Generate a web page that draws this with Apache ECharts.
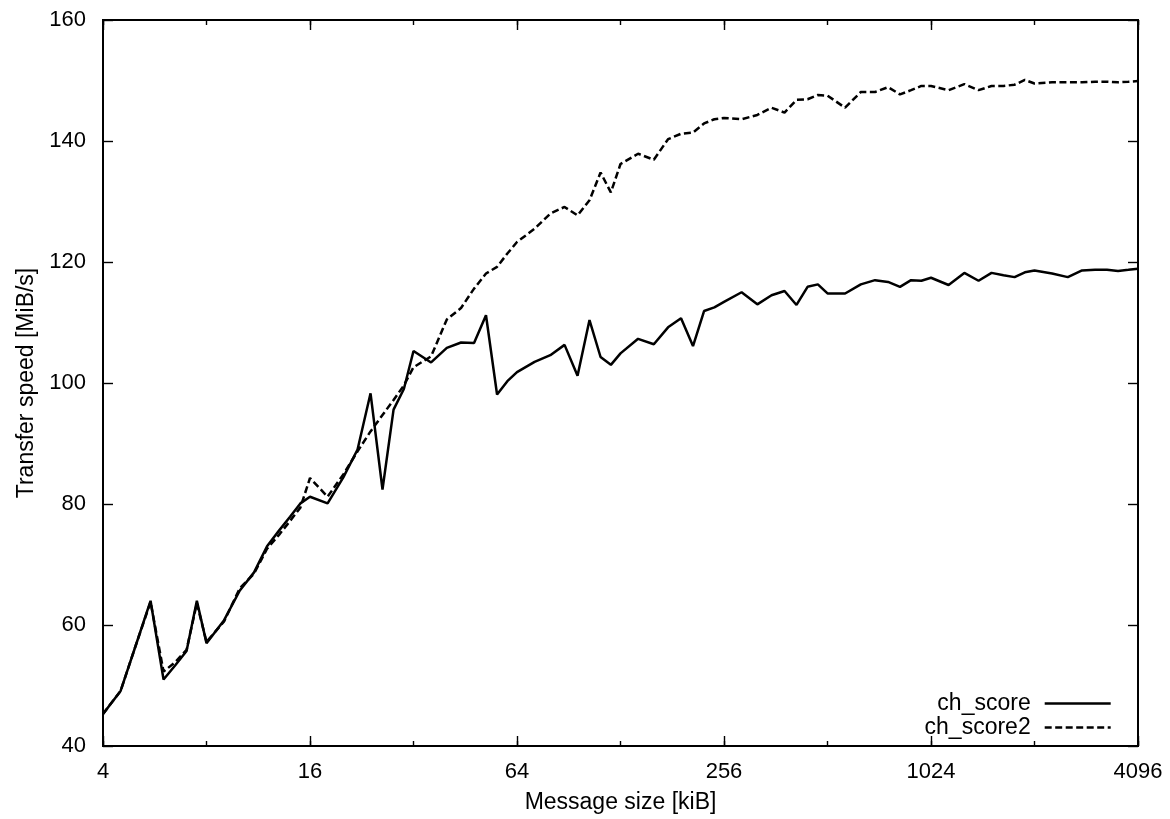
<!DOCTYPE html>
<html>
<head>
<meta charset="utf-8">
<script src="https://cdn.jsdelivr.net/npm/echarts@6/dist/echarts.min.js"></script>
<style>
  html, body { margin: 0; padding: 0; background: #fff; }
  #chart { width: 1170px; height: 819px; }
</style>
</head>
<body>
<div id="chart"></div>
<script>
// Message sizes in kiB: eight steps per octave from 4 to 4096
const sizes = [
  4, 4.5, 5, 5.5, 6, 6.5, 7, 7.5,
  8, 9, 10, 11, 12, 13, 14, 15,
  16, 18, 20, 22, 24, 26, 28, 30,
  32, 36, 40, 44, 48, 52, 56, 60,
  64, 72, 80, 88, 96, 104, 112, 120,
  128, 144, 160, 176, 192, 208, 224, 240,
  256, 288, 320, 352, 384, 416, 448, 480,
  512, 576, 640, 704, 768, 832, 896, 960,
  1024, 1152, 1280, 1408, 1536, 1664, 1792, 1920,
  2048, 2304, 2560, 2816, 3072, 3328, 3584, 3840,
  4096
];

// Transfer speed in MiB/s for ch_score
const chScore = [
  45.3, 49.1, 56.9, 64.0, 51.0, 53.4, 55.7, 64.0,
  57.0, 60.8, 65.7, 68.7, 73.0, 75.6, 77.9, 80.1,
  81.2, 80.1, 84.4, 89.0, 98.3, 82.4, 95.6, 99.0,
  105.3, 103.4, 105.8, 106.7, 106.6, 111.2, 98.1, 100.3,
  101.8, 103.5, 104.6, 106.3, 101.2, 110.4, 104.3, 103.0,
  104.9, 107.3, 106.4, 109.2, 110.7, 106.1, 111.9, 112.5,
  113.4, 115.0, 113.0, 114.5, 115.2, 112.9, 115.9, 116.3,
  114.8, 114.8, 116.3, 117.0, 116.7, 115.9, 117.0, 116.9,
  117.4, 116.2, 118.2, 116.9, 118.2, 117.8, 117.5, 118.3,
  118.6, 118.1, 117.5, 118.6, 118.7, 118.7, 118.5, 118.7,
  118.9
];

// Transfer speed in MiB/s for ch_score2
const chScore2 = [
  45.3, 49.1, 56.9, 63.8, 52.3, 53.9, 55.9, 63.6,
  57.2, 60.6, 66.1, 68.5, 72.6, 74.9, 77.2, 79.4,
  84.3, 81.2, 84.9, 88.7, 92.0, 94.7, 97.2, 99.6,
  102.6, 104.4, 110.5, 112.4, 115.6, 118.1, 119.2, 121.4,
  123.3, 125.5, 128.0, 129.1, 127.7, 130.2, 134.8, 131.5,
  136.2, 137.9, 136.9, 140.3, 141.2, 141.4, 142.9, 143.6,
  143.8, 143.6, 144.3, 145.5, 144.7, 146.8, 146.9, 147.6,
  147.5, 145.5, 148.1, 148.1, 148.9, 147.7, 148.4, 149.1,
  149.1, 148.4, 149.4, 148.4, 149.1, 149.1, 149.3, 150.1,
  149.5, 149.7, 149.7, 149.7, 149.8, 149.8, 149.7, 149.8,
  149.9
];

const seriesNames = ['ch_score', 'ch_score2'];
const xTickLabels = [4, 16, 64, 256, 1024, 4096];
const yTicks = [40, 60, 80, 100, 120, 140, 160];

const FONT = "'Liberation Sans', Arial, Helvetica, sans-serif";
const INK = '#000';
const toPairs = vals => sizes.map((s, i) => [s, vals[i]]);

// Log2 x axis; several copies give long ticks every two octaves, short ticks every octave,
// mirrored on the top edge.
function xAxisDef(position, interval, tickLen, withLabels) {
  const axis = {
    type: 'log',
    logBase: 2,
    position: position,
    min: xTickLabels[0],
    max: xTickLabels[xTickLabels.length - 1],
    interval: interval,
    axisLine: { show: false },
    splitLine: { show: false },
    axisTick: { show: true, inside: true, length: tickLen, lineStyle: { color: INK, width: 1.4 } },
    axisLabel: {
      show: withLabels,
      margin: 15,
      color: INK,
      fontSize: 22,
      fontFamily: FONT,
      formatter: v => (xTickLabels.indexOf(Math.round(v)) >= 0 ? String(Math.round(v)) : '')
    }
  };
  if (withLabels) {
    axis.name = 'Message size [kiB]';
    axis.nameLocation = 'middle';
    axis.nameGap = 45;
    axis.nameTextStyle = { color: INK, fontSize: 23, fontFamily: FONT };
  }
  return axis;
}

function yAxisDef(position, withLabels) {
  const axis = {
    type: 'value',
    position: position,
    min: yTicks[0],
    max: yTicks[yTicks.length - 1],
    interval: yTicks[1] - yTicks[0],
    axisLine: { show: false },
    splitLine: { show: false },
    axisTick: { show: true, inside: true, length: 10, lineStyle: { color: INK, width: 1.4 } },
    axisLabel: { show: withLabels, margin: 17, color: INK, fontSize: 22, fontFamily: FONT }
  };
  if (withLabels) {
    axis.name = 'Transfer speed [MiB/s]';
    axis.nameLocation = 'middle';
    axis.nameGap = 65;
    axis.nameRotate = 90;
    axis.nameTextStyle = { color: INK, fontSize: 23, fontFamily: FONT };
  }
  return axis;
}

const chart = echarts.init(document.getElementById('chart'), null, { renderer: 'canvas' });

chart.setOption({
  backgroundColor: '#fff',
  animation: false,
  grid: {
    left: 103, right: 32, top: 20, bottom: 72,
    show: true, borderColor: INK, borderWidth: 2, backgroundColor: 'transparent'
  },
  legend: {
    data: seriesNames,
    orient: 'vertical',
    align: 'right',
    right: 58,
    top: 692,
    padding: 0,
    itemGap: 1,
    itemWidth: 66,
    itemHeight: 24,
    selectedMode: false,
    itemStyle: { opacity: 0 },
    lineStyle: { width: 2.6 },
    formatter: name => '{t|' + name + '}',
    textStyle: {
      color: INK, fontSize: 23, fontFamily: FONT,
      rich: { t: { color: INK, fontSize: 23, fontFamily: FONT, padding: [0, 9, 0, 0] } }
    }
  },
  xAxis: [
    xAxisDef('bottom', 2, 10, true),
    xAxisDef('bottom', 1, 5, false),
    xAxisDef('top', 2, 10, false),
    xAxisDef('top', 1, 5, false)
  ],
  yAxis: [
    yAxisDef('left', true),
    yAxisDef('right', false)
  ],
  series: [
    {
      name: seriesNames[0],
      type: 'line',
      xAxisIndex: 0,
      yAxisIndex: 0,
      data: toPairs(chScore),
      symbol: 'none',
      lineStyle: { color: INK, width: 2.5, type: 'solid' },
      itemStyle: { color: INK },
      z: 3
    },
    {
      name: seriesNames[1],
      type: 'line',
      xAxisIndex: 0,
      yAxisIndex: 0,
      data: toPairs(chScore2),
      symbol: 'none',
      lineStyle: { color: INK, width: 2.5, type: [7, 3.5], cap: 'butt' },
      itemStyle: { color: INK },
      z: 2
    }
  ]
});
</script>
</body>
</html>
